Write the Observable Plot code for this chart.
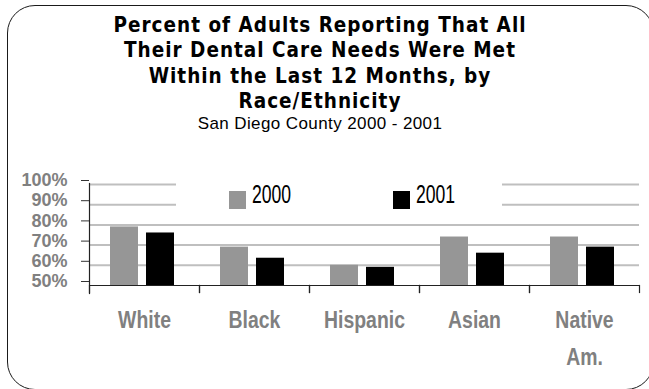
<!DOCTYPE html>
<html>
<head>
<meta charset="utf-8">
<script src="https://cdn.jsdelivr.net/npm/d3@7"></script>
<script src="https://cdn.jsdelivr.net/npm/@observablehq/plot@0.6"></script>
<style>
  html, body { margin: 0; padding: 0; background: #fff; }
  #page { position: relative; width: 649px; height: 389px; overflow: hidden; background: #fff; }
  #box { position: absolute; left: 7px; top: 5px; width: 645px; height: 383px;
         border: 1.5px solid #1a1a1a; border-radius: 28px; }
  #title { position: absolute; left: 0; top: 13px; width: 640px; text-align: center;
           font-family: "DejaVu Sans Condensed", "DejaVu Sans", sans-serif; font-stretch: condensed;
           font-weight: bold; font-size: 20.5px; letter-spacing: 1px; line-height: 25.3px; color: #000; }
  #subtitle { position: absolute; left: 0; top: 114px; width: 640px; text-align: center;
              font-family: "Liberation Sans", Arial, sans-serif; font-size: 17px; letter-spacing: 0.4px;
              line-height: 20px; color: #000; }
  #chart { position: absolute; left: 0; top: 140px; }
  #legend { position: absolute; left: 176px; top: 178px; width: 326px; height: 36px; background: #fff; }
  .sw { position: absolute; top: 13px; width: 17px; height: 18px; }
  .lt { position: absolute; top: 7.4px; font-family: "Liberation Sans", Arial, sans-serif;
        font-size: 22px; line-height: 22px; color: #000; transform: scale(0.8, 1.2); transform-origin: 0 18.6px; }
</style>
</head>
<body>
<div id="page">
  <div id="box"></div>
  <div id="title">Percent of Adults Reporting That All<br>Their Dental Care Needs Were Met<br>Within the Last 12 Months, by<br>Race/Ethnicity</div>
  <div id="subtitle">San Diego County 2000 - 2001</div>
  <div id="chart"></div>
  <div id="legend"></div>
</div>
<script>
const categories = ["White", "Black", "Hispanic", "Asian", "Native Am."];
const years = ["2000", "2001"];
const values2000 = [79, 69, 60, 74, 74];
const values2001 = [76, 63.5, 59, 66, 69];
const yTicks = [50, 60, 70, 80, 90, 100];
const gridTicks = [60, 70, 80, 90, 100];
const yDomain = [50, 100];
const colors = ["#969696", "#000000"];

const rows = [];
categories.forEach((c, i) => {
  rows.push({category: c, year: years[0], value: values2000[i]});
  rows.push({category: c, year: years[1], value: values2001[i]});
});

const sans = '"Liberation Sans", Arial, sans-serif';

const plot = Plot.plot({
  width: 649,
  height: 249,
  marginTop: 44,
  marginBottom: 104,
  marginLeft: 88,
  marginRight: 10,
  style: {background: "transparent", overflow: "visible"},
  fx: {domain: categories, padding: 0, axis: null, label: null},
  x: {domain: years, paddingInner: 0.216, paddingOuter: 0.6, align: 0.45, axis: null},
  y: {domain: yDomain, axis: null},
  color: {domain: years, range: colors},
  marks: [
    Plot.ruleY(gridTicks, {stroke: "#bfbfbf", strokeWidth: 2}),
    Plot.barY(rows, {fx: "category", x: "year", y1: yDomain[0], y2: "value", fill: "year"}),
    Plot.ruleY([yDomain[0]], {stroke: "#222", strokeWidth: 1.2}),
    Plot.frame({anchor: "left", insetTop: -1, insetBottom: -8, facetAnchor: "left", stroke: "#222", strokeWidth: 1.2}),
    Plot.frame({anchor: "left", insetTop: 101, insetBottom: -7, stroke: "#222", strokeWidth: 1.2}),
    Plot.frame({anchor: "right", insetTop: 101, insetBottom: -7, stroke: "#222", strokeWidth: 1.2}),
    Plot.axisY({
      ticks: yTicks, label: null,
      tickSize: 8, tickPadding: 14, tickFormat: d => d + "%",
      fontSize: 17.5, fontWeight: "bold", fontFamily: sans,
      fill: "#808080", stroke: "#333", dy: -4
    }),
    Plot.axisFx({
      anchor: "bottom", tickSize: 0, tickPadding: 16, label: null,
      tickFormat: d => d.replace(" ", "\n"),
      fontSize: 21, fontWeight: "bold", fontFamily: sans, lineHeight: 1.56,
      fill: "#808080"
    })
  ]
});
document.getElementById("chart").appendChild(plot);

// condense tick-label glyphs (narrow, tall face of the original) around each label's anchor point
function condense(selector, sx, sy) {
  plot.querySelectorAll(selector).forEach(el => {
    const x = +el.getAttribute("x") || 0;
    const y = +el.getAttribute("y") || 0;
    const tr = el.getAttribute("transform") || "";
    el.setAttribute("transform", `${tr} translate(${x},${y}) scale(${sx},${sy}) translate(${-x},${-y})`);
  });
}
condense('g[aria-label="y-axis tick label"] text', 1.03, 1);
condense('g[aria-label="fx-axis tick label"] text', 0.925, 1.13);

// legend
const legend = document.getElementById("legend");
const swatchX = [53, 217];
years.forEach((y, i) => {
  const sw = document.createElement("div");
  sw.className = "sw";
  sw.style.left = swatchX[i] + "px";
  sw.style.background = colors[i];
  legend.appendChild(sw);
  const t = document.createElement("div");
  t.className = "lt";
  t.style.left = (swatchX[i] + 23) + "px";
  t.textContent = y;
  legend.appendChild(t);
});
</script>
</body>
</html>
